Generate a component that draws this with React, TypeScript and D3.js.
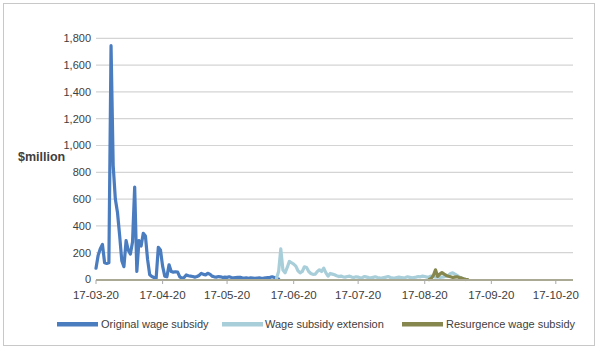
import React from "react";
import * as d3 from "d3";

const START = new Date(2020, 2, 17);
const END = new Date(2020, 9, 25);

const yTicks = [0, 200, 400, 600, 800, 1000, 1200, 1400, 1600, 1800];
const xTickDates = [
  new Date(2020, 2, 17), new Date(2020, 3, 17), new Date(2020, 4, 17), new Date(2020, 5, 17),
  new Date(2020, 6, 17), new Date(2020, 7, 17), new Date(2020, 8, 17), new Date(2020, 9, 17),
];
const xTickLabels = ["17-03-20", "17-04-20", "17-05-20", "17-06-20", "17-07-20", "17-08-20", "17-09-20", "17-10-20"];

// Original wage subsidy: daily from 17 Mar 2020 (day offset 0)
const originalStart = 0;
const originalValues = [
  84, 180, 230, 262, 125, 120, 125, 1745, 850, 600, 500, 330, 140, 96, 290, 220, 190, 280, 690, 60,
  290, 250, 345, 325, 150, 35, 22, 15, 10, 240, 220, 100, 25, 20, 110, 60, 55, 58, 55, 20,
  10, 15, 34, 28, 25, 22, 18, 22, 30, 46, 38, 35, 46, 40, 25, 20, 18, 22, 20, 15,
  18, 16, 20, 15, 12, 14, 16, 17, 12, 10, 12, 9, 12, 10, 8, 11, 12, 9, 10, 12,
  14, 16, 20, 15, 8, 3,
];

// Wage subsidy extension: from day offset 84
const extensionStart = 84;
const extensionValues = [
  10, 60, 228, 70, 50, 90, 135, 125, 115, 100, 65, 50, 60, 95, 90, 60, 45, 38, 40, 60,
  72, 60, 85, 50, 25, 45, 40, 35, 28, 22, 25, 20, 18, 22, 25, 18, 15, 20, 18, 12,
  15, 22, 18, 14, 12, 16, 20, 15, 12, 10, 14, 18, 22, 15, 12, 10, 14, 18, 15, 12,
  15, 20, 16, 12, 15, 18, 22, 20, 25, 22, 18, 20, 25, 22, 18, 20, 15, 18, 20, 25,
  30, 45, 50, 40, 30, 20, 12, 5, 0,
];

// Resurgence wage subsidy: from day offset 155
const resurgenceStart = 155;
const resurgenceValues = [
  0, 8, 30, 72, 22, 40, 52, 40, 30, 24, 20, 15, 18, 20, 15, 12, 6, 2, 0,
];

const seriesNames = ["Original wage subsidy", "Wage subsidy extension", "Resurgence wage subsidy"];
const seriesColors = ["#4A7CC0", "#A8CEDA", "#86864F"];

type Pt = { date: Date; value: number };
const toPoints = (start: number, values: number[]): Pt[] =>
  values.map((v, i) => ({ date: d3.timeDay.offset(START, start + i), value: v }));

export default function App() {
  const width = 600;
  const height = 357;
  const x = d3.scaleTime().domain([START, END]).range([96, 573]);
  const y = d3.scaleLinear().domain([0, 1800]).range([279.5, 38.3]);
  const line = d3
    .line<Pt>()
    .x((d) => x(d.date))
    .y((d) => y(d.value))
    .curve(d3.curveLinear);

  const series = [
    toPoints(originalStart, originalValues),
    toPoints(extensionStart, extensionValues),
    toPoints(resurgenceStart, resurgenceValues),
  ];

  const font = "'Liberation Sans', Arial, sans-serif";
  const textColor = "#404040";

  const legendItems = [
    { swatchX: 57, textX: 101 },
    { swatchX: 222, textX: 265 },
    { swatchX: 402, textX: 446 },
  ];

  return (
    <svg
      width={width}
      height={height}
      style={{ position: "absolute", left: 0, top: 0, background: "#fff" }}
      fontFamily={font}
    >
      <rect x={0} y={0} width={width} height={height} fill="#fff" />
      <rect x={3.5} y={3.5} width={591} height={342} fill="none" stroke="#C8C8C8" strokeWidth={1} />

      {yTicks.filter((t) => t > 0).map((t) => (
        <line key={t} x1={96} x2={573} y1={y(t)} y2={y(t)} stroke="#D4D4D4" strokeWidth={1.2} />
      ))}
      {yTicks.map((t) => (
        <text key={t} x={91} y={y(t)} dy="0.35em" textAnchor="end" fontSize={11} fill={textColor}>
          {d3.format(",")(t)}
        </text>
      ))}

      <text x={18} y={157} dy="0.35em" fontSize={12.5} fontWeight="bold" fill={textColor}>
        $million
      </text>

      {series.map((s, i) => (
        <path
          key={i}
          d={line(s) || ""}
          fill="none"
          stroke={seriesColors[i]}
          strokeWidth={3.2}
          strokeLinejoin="round"
          strokeLinecap="round"
        />
      ))}

      <line x1={96} x2={573} y1={280} y2={280} stroke="#A9A994" strokeWidth={2} />
      {xTickDates.map((d, i) => (
        <g key={i}>
          <line x1={x(d)} x2={x(d)} y1={280} y2={284} stroke="#A9A9A9" strokeWidth={1} />
          <text x={x(d)} y={295} dy="0.35em" textAnchor="middle" fontSize={11.5} fill={textColor}>
            {xTickLabels[i]}
          </text>
        </g>
      ))}

      {seriesNames.map((name, i) => (
        <g key={name}>
          <rect x={legendItems[i].swatchX} y={322} width={41} height={4.5} fill={seriesColors[i]} />
          <text x={legendItems[i].textX} y={324.5} dy="0.35em" fontSize={11} fill={textColor}>
            {name}
          </text>
        </g>
      ))}
    </svg>
  );
}
